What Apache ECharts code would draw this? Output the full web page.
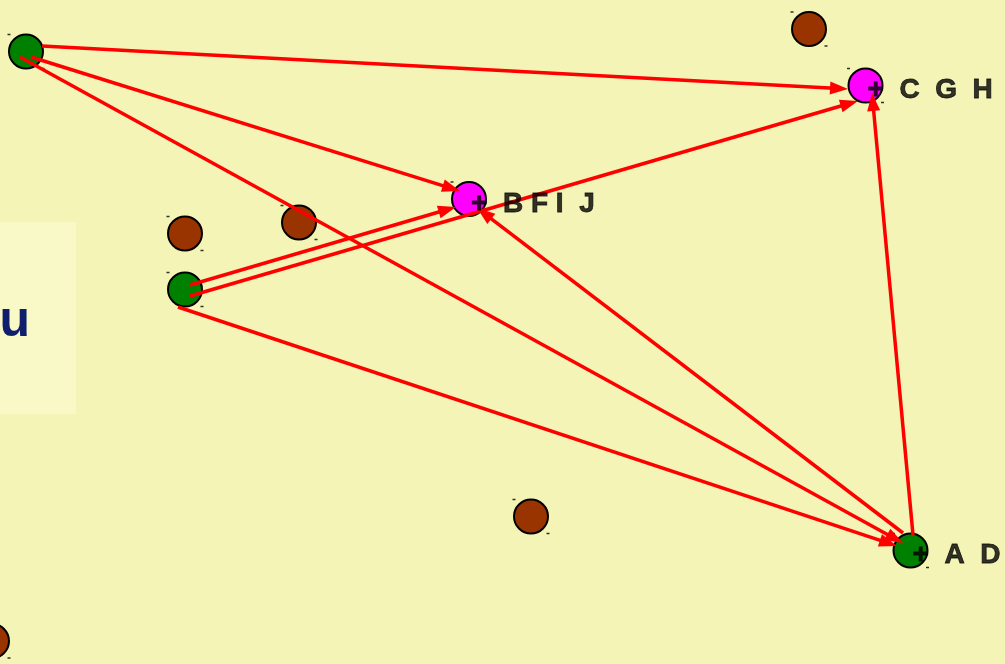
<!DOCTYPE html>
<html>
<head>
<meta charset="utf-8">
<script src="https://cdn.jsdelivr.net/npm/echarts@6/dist/echarts.min.js"></script>
<style>
  html, body { margin: 0; padding: 0; background: #f3f4b5; }
  #main { width: 1005px; height: 664px; }
</style>
</head>
<body>
<div id="main"></div>
<script>
// nodes (pixel-space coordinates)
const nodeX = [26, 809, 865.5, 469, 185, 299, 185, 531, 910.5, -8];
const nodeY = [51.5, 29, 85.5, 199, 233.5, 222.5, 289.5, 516.5, 550.5, 641];
const nodeKind = ['green', 'brown', 'magenta', 'magenta', 'brown', 'brown', 'green', 'brown', 'green', 'brown'];
const nodeLabel = ['', '', '+  C  G  H', '+  B F I  J', '', '', '', '', '+  A  D', ''];

// arrows: start point -> arrow tip
const edgeStart = [[42, 46], [31, 57], [20, 57], [190, 285], [190, 296], [178, 307], [903, 533], [913, 535]];
const edgeEnd = [[848, 89], [460, 191], [903, 543], [456, 207], [858, 101], [897, 546], [477, 208], [872, 93]];

const kindColor = { green: '#008000', brown: '#993300', magenta: '#ff00ff' };
const ARROW_W = 13;
const ARROW_L = 18;

let chart = echarts.init(document.getElementById('main'));

let nodes = nodeX.map((x, i) => ({
  value: [x, nodeY[i]],
  itemStyle: { color: kindColor[nodeKind[i]] }
}));

let ticks = [];
nodeX.forEach((x, i) => {
  ticks.push([x - 17, nodeY[i] - 17]);
  ticks.push([x + 17, nodeY[i] + 17]);
});

let labels = [];
nodeLabel.forEach((t, i) => {
  if (t) labels.push({ value: [nodeX[i], nodeY[i]], name: t });
});

// lines series centres the end symbol on the end point, so pull the end
// back by half the arrow length to leave the tip on the read-off point
let edges = edgeStart.map((s, i) => {
  let e = edgeEnd[i];
  let dx = e[0] - s[0], dy = e[1] - s[1];
  let len = Math.sqrt(dx * dx + dy * dy);
  let k = ARROW_L / 2 / len;
  return { coords: [s, [e[0] - dx * k, e[1] - dy * k]] };
});

let option = {
  backgroundColor: '#f3f4b5',
  animation: false,
  grid: { left: 0, right: 0, top: 0, bottom: 0 },
  xAxis: { type: 'value', min: 0, max: 1005, show: false },
  yAxis: { type: 'value', min: 0, max: 664, inverse: true, show: false },
  graphic: [
    {
      type: 'rect', z: 0,
      shape: { x: 0, y: 222, width: 76, height: 192 },
      style: { fill: '#f8f9c6' }
    },
    {
      type: 'text', z: 1,
      x: 30, y: 322,
      style: {
        text: 'ou', fill: '#0f1f6b', align: 'right', verticalAlign: 'middle',
        font: 'bold 50px "Liberation Sans", Arial, sans-serif'
      }
    }
  ],
  series: [
    {
      type: 'scatter',
      z: 2,
      clip: false,
      symbol: 'circle',
      symbolSize: 34,
      itemStyle: { borderColor: '#000', borderWidth: 2, opacity: 1 },
      data: nodes
    },
    {
      type: 'scatter',
      z: 2,
      clip: false,
      symbol: 'rect',
      symbolSize: [3, 1.5],
      itemStyle: { color: '#000' },
      data: ticks
    },
    {
      type: 'lines',
      coordinateSystem: 'cartesian2d',
      z: 3,
      symbol: ['none', 'triangle'],
      symbolSize: [0, [ARROW_W, ARROW_L]],
      lineStyle: { color: '#ff0000', width: 3.5, opacity: 1 },
      data: edges
    },
    {
      type: 'scatter',
      z: 4,
      symbolSize: 1,
      itemStyle: { color: 'rgba(0,0,0,0)' },
      label: {
        show: true,
        position: 'right',
        distance: 0,
        align: 'left',
        verticalAlign: 'middle',
        offset: [1.5, 5],
        formatter: p => p.name,
        color: '#000',
        textBorderColor: '#000',
        textBorderWidth: 0.8,
        fontFamily: '"Liberation Sans", Arial, sans-serif',
        fontWeight: 'bold',
        fontSize: 28
      },
      data: labels
    }
  ]
};

chart.setOption(option);
</script>
</body>
</html>
